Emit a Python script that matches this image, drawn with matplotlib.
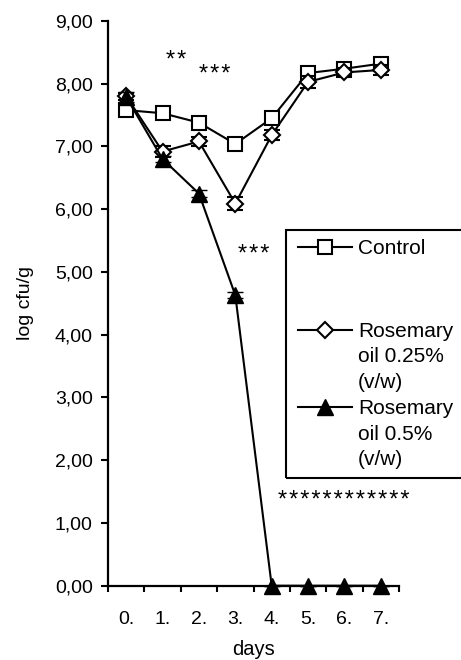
import matplotlib.pyplot as plt
from matplotlib.lines import Line2D
from matplotlib.patches import Rectangle

plt.rcParams['font.family'] = ['Liberation Sans', 'DejaVu Sans']

# Datos (log cfu/g por día)
days = [0, 1, 2, 3, 4, 5, 6, 7]
day_labels = ['0.', '1.', '2.', '3.', '4.', '5.', '6.', '7.']

control = [7.58, 7.53, 7.38, 7.04, 7.45, 8.17, 8.24, 8.32]
control_err = [0.05, 0.04, 0.04, 0.04, 0.06, 0.08, 0.06, 0.08]

rosemary_025 = [7.80, 6.92, 7.08, 6.09, 7.18, 8.03, 8.18, 8.22]
rosemary_025_err = [0.06, 0.08, 0.07, 0.10, 0.08, 0.09, 0.07, 0.08]

rosemary_05 = [7.79, 6.80, 6.25, 4.63, 0.0, 0.0, 0.0, 0.0]
rosemary_05_err = [0.08, 0.05, 0.05, 0.05, 0.0, 0.0, 0.0, 0.0]

# Marcas de significancia: (texto, día, valor)
sig_marks = [
    ('**', 1.37, 8.27),
    ('***', 2.42, 8.05),
    ('***', 3.51, 5.18),
    ('************', 5.98, 1.26),
]

W, H = 461, 660
fig = plt.figure(figsize=(W / 100, H / 100), dpi=100)
ax = fig.add_axes([108 / W, 74.3 / H, 291 / W, 564.7 / H])

lw = 1.5
common = dict(color='black', lw=lw, capsize=5.5, elinewidth=1.2,
              capthick=1.2, clip_on=False)

ax.errorbar(days, control, yerr=control_err, marker='s', ms=10,
            mfc='white', mec='black', mew=1.5, zorder=3, **common)
ax.errorbar(days, rosemary_025, yerr=rosemary_025_err, marker='D', ms=8,
            mfc='white', mec='black', mew=1.5, zorder=4, **common)
ax.errorbar(days, rosemary_05, yerr=rosemary_05_err, marker='^', ms=11,
            mfc='black', mec='black', mew=1.0, zorder=5, **common)

ax.set_xlim(-0.5, 7.5)
ax.set_ylim(0, 9)

# Eje Y
ax.set_yticks(range(0, 10))
ax.set_yticklabels([f'{v:.2f}'.replace('.', ',') for v in range(0, 10)])
ax.tick_params(axis='y', direction='out', length=5, width=1.5,
               labelsize=14, pad=6)

# Eje X: etiquetas en el centro, ticks entre categorías
ax.set_xticks(days)
ax.set_xticklabels(day_labels)
ax.set_xticks([d - 0.5 for d in days] + [7.5], minor=True)
ax.tick_params(axis='x', which='major', length=0, labelsize=14, pad=18)
ax.tick_params(axis='x', which='minor', direction='out', length=4.5,
               width=1.5)

for s in ['top', 'right']:
    ax.spines[s].set_visible(False)
for s in ['left', 'bottom']:
    ax.spines[s].set_linewidth(1.6)

ax.set_ylabel('log cfu/g', fontsize=14, labelpad=15)
ax.set_xlabel('days', fontsize=14.5, labelpad=9)

for txt, x, y in sig_marks:
    ax.text(x, y, '\u200a'.join(txt), ha='center', va='baseline',
            fontsize=17)

# Leyenda dibujada a mano (recortada por el borde derecho)
def fx(px):
    return px / W


def fy(py):
    return 1 - py / H


fig.add_artist(Rectangle((fx(286), fy(478)), fx(490) - fx(286),
                         fy(230) - fy(478), transform=fig.transFigure,
                         fill=False, lw=1.5, ec='black', clip_on=False))

entries = [
    (247, dict(marker='s', ms=10, mfc='white', mew=1.5),
     [('Control', 254)]),
    (330, dict(marker='D', ms=8, mfc='white', mew=1.5),
     [('Rosemary', 337), ('oil 0.25%', 362.5), ('(v/w)', 388)]),
    (407, dict(marker='^', ms=11, mfc='black', mew=1.0),
     [('Rosemary', 414), ('oil 0.5%', 439.5), ('(v/w)', 465)]),
]
for y_mark, mstyle, lines in entries:
    fig.add_artist(Line2D([fx(298), fx(325), fx(352)],
                          [fy(y_mark)] * 3, transform=fig.transFigure,
                          color='black', lw=lw, mec='black',
                          markevery=[1], **mstyle))
    for txt, yb in lines:
        fig.text(fx(358), fy(yb), txt, ha='left', va='baseline',
                 fontsize=15)

fig.savefig('out.png', dpi=100, facecolor='white')
